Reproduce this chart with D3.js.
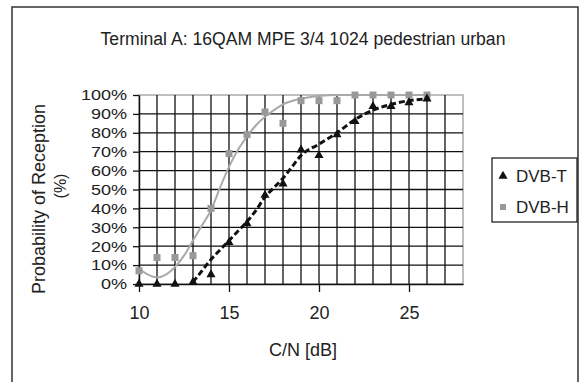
<!DOCTYPE html>
<html><head><meta charset="utf-8">
<script src="https://cdn.jsdelivr.net/npm/d3@7"></script>
<style>body{margin:0;background:#fff}svg{display:block;font-family:"Liberation Sans",Arial,sans-serif}</style>
</head><body><svg id="c" width="579" height="382"></svg>
<script>
const title = "Terminal A: 16QAM MPE 3/4 1024 pedestrian urban";
const xTitle = "C/N [dB]";
const yTitle1 = "Probability of Reception";
const yTitle2 = "(%)";
const cn = [10,11,12,13,14,15,16,17,18,19,20,21,22,23,24,25,26];
const dvbT = [0,0,0,1,5,22,32,47,53,71,68,79,86,94,94,96,98];
const dvbH = [7,14,14,15,40,69,79,91,85,97,97,97,100,100,100,100,100];
const trendHx = [10,10.5,11,11.5,12,12.5,13,13.5,14,14.5,15,15.5,16,16.5,17,17.5,18,19,20,21,22,23,24,25,26];
const trendHy = [8,5,3.5,5,9,15,23,31,39,51,62,71,78,84,88.5,92,95,98,99.5,100,100,100,100,100,100];
const trendTx = [13,13.5,14,14.5,15,15.5,16,16.5,17,17.5,18,18.5,19,20,21,22,23,24,25,26];
const trendTy = [1,7,13,18,23,28,33,39,46,51,56,62,68,74,80,87,92,95,97,98];
const xTicks = [10,15,20,25];
const yTicks = [0,10,20,30,40,50,60,70,80,90,100];
const seriesNames = ["DVB-T","DVB-H"];

const svg = d3.select("#c");
const L=139,R=463,T=95,B=284;
const x = d3.scaleLinear().domain([10,28]).range([L,R]);
const y = d3.scaleLinear().domain([0,100]).range([B,T]);
const ink = "#222";

// outer border
svg.append("rect").attr("x",12).attr("y",7).attr("width",566).attr("height",400)
  .attr("fill","none").attr("stroke","#333").attr("stroke-width",1.5);

svg.append("text").attr("x",303).attr("y",45).attr("text-anchor","middle")
  .attr("font-size",17.6).attr("fill",ink).text(title);

// plot frame
svg.append("rect").attr("x",L).attr("y",T).attr("width",R-L).attr("height",B-T)
  .attr("fill","none").attr("stroke","#aaa").attr("stroke-width",1.5);

// grid
const g = svg.append("g").attr("stroke","#111").attr("stroke-width",1.3);
d3.range(11,28).forEach(v=>g.append("line").attr("x1",x(v)).attr("x2",x(v)).attr("y1",T).attr("y2",B));
d3.range(10,100,10).forEach(v=>g.append("line").attr("x1",L).attr("x2",R).attr("y1",y(v)).attr("y2",y(v)));

// axes
const ax = svg.append("g").attr("transform",`translate(0,${B})`)
  .call(d3.axisBottom(x).tickValues(xTicks).tickSize(8).tickSizeOuter(0));
ax.select(".domain").attr("stroke","#111").attr("stroke-width",1.5);
ax.selectAll(".tick line").attr("stroke","#111").attr("stroke-width",1.3);
ax.selectAll(".tick text").attr("font-size",18).attr("fill",ink).attr("y",22)
  .attr("font-family","Liberation Sans, Arial, sans-serif");

const ay = svg.append("g").attr("transform",`translate(${L},0)`)
  .call(d3.axisLeft(y).tickValues(yTicks).tickSize(6).tickSizeOuter(0).tickFormat(d=>d+"%"));
ay.select(".domain").attr("stroke","#111").attr("stroke-width",1.5);
ay.selectAll(".tick line").attr("stroke","#111").attr("stroke-width",1.3);
ay.selectAll(".tick text").attr("font-size",15).attr("fill",ink).attr("x",-10)
  .attr("transform","scale(1.2,1)")
  .attr("font-family","Liberation Sans, Arial, sans-serif");

svg.append("text").attr("x",303).attr("y",356).attr("text-anchor","middle")
  .attr("font-size",18).attr("fill",ink).text(xTitle);
svg.append("text").attr("transform","translate(45,199) rotate(-90)").attr("text-anchor","middle")
  .attr("font-size",18).attr("fill",ink).text(yTitle1);
svg.append("text").attr("transform","translate(66,186) rotate(-90)").attr("text-anchor","middle")
  .attr("font-size",16).attr("fill",ink).text(yTitle2);

// trend lines
const line = d3.line().curve(d3.curveMonotoneX);
svg.append("path").attr("d",line(trendHx.map((v,i)=>[x(v),y(trendHy[i])])))
  .attr("fill","none").attr("stroke","#aaa").attr("stroke-width",2);
svg.append("path").attr("d",line(trendTx.map((v,i)=>[x(v),y(trendTy[i])])))
  .attr("fill","none").attr("stroke","#111").attr("stroke-width",3).attr("stroke-dasharray","6,3");

// markers
const sq = d3.symbol().type(d3.symbolSquare).size(49);
const tri = d3.symbol().type(d3.symbolTriangle).size(36);
svg.append("g").selectAll("path").data(cn).join("path")
  .attr("d",sq).attr("transform",(d,i)=>`translate(${x(d)},${y(dvbH[i])})`).attr("fill","#999");
svg.append("g").selectAll("path").data(cn).join("path")
  .attr("d",tri).attr("transform",(d,i)=>`translate(${x(d)},${y(dvbT[i])})`).attr("fill","#111");

// legend
svg.append("rect").attr("x",492).attr("y",158).attr("width",85).attr("height",64)
  .attr("fill","#fff").attr("stroke","#222").attr("stroke-width",1.3);
svg.append("path").attr("d",tri).attr("transform","translate(503,176)").attr("fill","#111");
svg.append("path").attr("d",d3.symbol().type(d3.symbolSquare).size(36)).attr("transform","translate(503,207)").attr("fill","#999");
svg.append("text").attr("x",516).attr("y",182).attr("font-size",17).attr("fill",ink).text(seriesNames[0]);
svg.append("text").attr("x",516).attr("y",213).attr("font-size",17).attr("fill",ink).text(seriesNames[1]);
</script></body></html>
